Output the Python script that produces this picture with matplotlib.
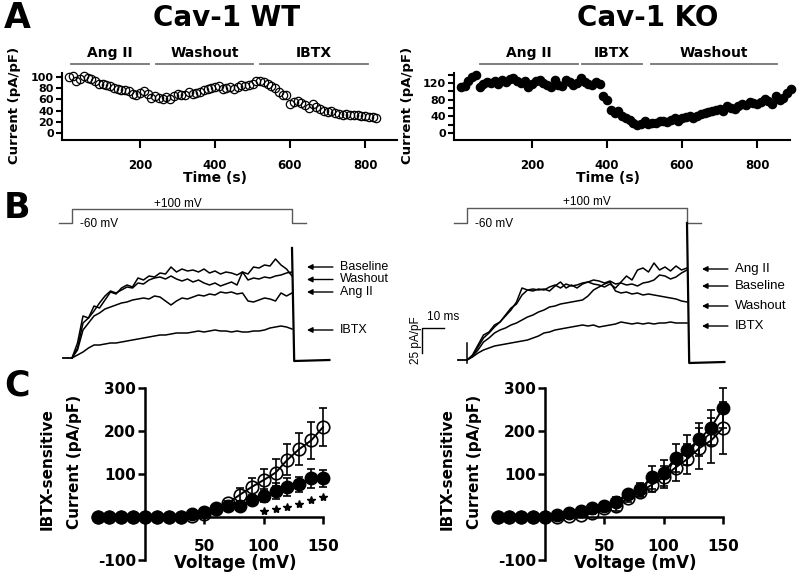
import numpy as np
import matplotlib
matplotlib.use("Agg")
import matplotlib.pyplot as plt

plt.rcParams['font.family'] = ['DejaVu Sans']
plt.rcParams['font.weight'] = 'bold'

W, H = 800, 580

# ---------------- panel A: time courses ----------------
wt_time = np.arange(10, 840, 10)
wt_current = [100, 102, 93, 97, 101, 98, 96, 92, 88, 87,
              85, 84, 81, 78, 76, 77, 75, 70, 68, 72,
              75, 70, 62, 66, 62, 60, 64, 61, 66, 70,
              67, 68, 73, 69, 72, 74, 76, 78, 80, 82,
              84, 78, 80, 82, 79, 83, 85, 84, 86, 88,
              92, 93, 91, 88, 84, 80, 74, 68, 67, 52,
              55, 58, 54, 50, 45, 52, 46, 42, 40, 38,
              40, 36, 34, 33, 34, 33, 32, 32, 31, 30,
              29, 28, 27]
ko_time = np.arange(10, 900, 10)
ko_current = [110, 112, 125, 135, 140, 110, 118, 122, 120, 125,
              118, 128, 122, 130, 132, 125, 120, 124, 110, 118,
              125, 128, 120, 115, 110, 128, 115, 112, 128, 122,
              115, 120, 132, 122, 118, 115, 122, 118, 90, 80,
              55, 48, 52, 40, 35, 32, 25, 20, 22, 28,
              22, 25, 24, 28, 30, 27, 32, 35, 30, 36,
              38, 40, 36, 42, 45, 48, 50, 52, 55, 58,
              54, 65, 60, 58, 65, 70, 68, 75, 72, 70,
              75, 82, 78, 70, 90, 80, 85, 95, 105]
wt_drugs = ["Ang II", "Washout", "IBTX"]
wt_drug_start = [16, 243, 520]
wt_drug_end = [224, 502, 808]
ko_drugs = ["Ang II", "IBTX", "Washout"]
ko_drug_start = [62, 332, 517]
ko_drug_end = [322, 493, 854]

# ---------------- panel B: current traces ----------------
b_time = np.arange(0, 100.1, 2.5)
wt_baseline = [0, 15, 42, 40, 52, 50, 58, 66, 64, 70,
               73, 71, 80, 78, 82, 81, 85, 84, 91, 86,
               89, 87, 88, 86, 89, 85, 87, 84, 86, 85,
               83, 86, 84, 91, 90, 93, 92, 99, 93, 89, 82]
wt_washout = [0, 10, 35, 40, 47, 55, 62, 67, 65, 68,
              71, 70, 75, 74, 78, 80, 81, 79, 82, 79,
              77, 79, 76, 78, 75, 73, 75, 72, 74, 76,
              73, 86, 78, 80, 79, 81, 80, 82, 83, 85, 86]
wt_angii = [0, 8, 28, 35, 42, 45, 49, 51, 53, 55,
            56, 58, 59, 60, 59, 62, 61, 57, 53, 57,
            60, 59, 61, 63, 62, 64, 63, 66, 65, 66,
            64, 65, 57, 56, 58, 60, 59, 57, 65, 62, 65]
wt_ibtx = [0, 3, 6, 10, 13, 13, 14, 15, 15, 16,
           17, 18, 19, 20, 21, 22, 23, 23, 24, 25,
           25, 25, 26, 27, 26, 27, 28, 27, 27, 26,
           27, 26, 26, 27, 27, 28, 30, 31, 32, 31, 29]
ko_angii = [0, 5, 15, 25, 28, 35, 38, 44, 50, 58,
            72, 70, 71, 70, 71, 69, 74, 78, 72, 75,
            72, 76, 78, 76, 75, 73, 76, 72, 78, 84,
            80, 90, 92, 88, 97, 90, 93, 89, 94, 90, 92]
ko_baseline = [0, 4, 13, 22, 27, 33, 38, 45, 52, 56,
               65, 70, 69, 71, 70, 73, 75, 72, 76, 74,
               75, 77, 78, 80, 79, 77, 79, 76, 77, 75,
               76, 74, 77, 78, 80, 85, 84, 81, 83, 87, 90]
ko_washout = [0, 4, 10, 18, 22, 27, 30, 32, 35, 37,
              40, 43, 45, 48, 50, 53, 54, 56, 57, 58,
              59, 60, 64, 70, 73, 76, 78, 69, 67, 68,
              66, 67, 65, 66, 65, 64, 63, 62, 61, 59, 58]
ko_ibtx = [0, 3, 7, 10, 12, 14, 15, 16, 17, 18,
           19, 20, 22, 24, 27, 28, 30, 31, 32, 33,
           34, 35, 34, 35, 33, 34, 35, 36, 38, 37,
           36, 37, 36, 37, 36, 37, 37, 38, 37, 37, 37]
pre_t = [-4, 0]
pre_i = [0, 0]
tail_t = [100, 101, 117]
wt_tail_i = [110, -3, -2]
ko_tail_i = [137, -3, -2]
ko_artifact_i = [-3, 17]
protocol_t = [-6, 0, 0, 100, 100, 106.5]
protocol_mv = [-60, -60, 100, 100, -60, -60]
wt_labels = ["Baseline", "Washout", "Ang II", "IBTX"]
wt_arrow_i = [91, 78.5, 66, 28]
ko_labels = ["Ang II", "Baseline", "Washout", "IBTX"]
ko_arrow_i = [91, 74, 54, 34]
scale_ms = 10
scale_pa = 25

# ---------------- panel C: I-V curves ----------------
volt = np.arange(-40, 151, 10)
wt_open = [0, 0, 0, 0, 0, 0, 0, 0, 3, 8, 18, 32, 52, 70, 86, 103, 133, 158, 178, 209]
wt_open_err = [0, 0, 0, 0, 0, 0, 0, 0, 3, 4, 5, 6, 15, 20, 25, 32, 36, 38, 43, 44]
wt_fill = [0, 0, 0, 0, 0, 0, 0, 0, 6, 12, 20, 25, 25, 40, 50, 60, 70, 76, 90, 90]
wt_fill_err = [0, 0, 0, 0, 0, 0, 0, 0, 2, 3, 5, 8, 10, 12, 15, 18, 20, 17, 22, 20]
star_v = [100, 110, 120, 130, 140, 150]
star_i = [13, 18, 24, 31, 39, 46]
ko_open = [0, 0, 0, 0, 0, 0, 2, 5, 10, 20, 25, 45, 58, 75, 93, 115, 135, 160, 178, 207]
ko_open_err = [0, 0, 0, 0, 0, 1, 2, 3, 4, 6, 10, 10, 12, 18, 26, 31, 35, 48, 52, 60]
ko_fill = [0, 0, 0, 0, 0, 5, 10, 14, 20, 26, 36, 53, 65, 92, 103, 137, 155, 181, 208, 253]
ko_fill_err = [0, 0, 0, 0, 0, 1, 2, 3, 4, 5, 10, 10, 15, 26, 30, 33, 35, 38, 40, 47]


fig = plt.figure(figsize=(W / 100, H / 100), dpi=100)


def box(x0, y0, x1, y1):
    return fig.add_axes([x0 / W, 1 - y1 / H, (x1 - x0) / W, (y1 - y0) / H])


def lims(a, b, p1, v1, p2, v2):
    k = (v2 - v1) / (p2 - p1)
    return v1 + (a - p1) * k, v1 + (b - p1) * k


def ftext(x, y, s, **kw):
    kw.setdefault('ha', 'center')
    kw.setdefault('va', 'center')
    fig.text(x / W, 1 - y / H, s, **kw)


def time_course(ax, t, cur, filled, drugs, starts, ends, bar_y, lab_y):
    ax.plot(t, cur, 'o', ms=6, mfc='black' if filled else 'none', mec='black',
            mew=0.9, clip_on=False)
    for name, a, b in zip(drugs, starts, ends):
        ax.plot([a, b], [bar_y, bar_y], color='0.45', lw=1.3, clip_on=False)
        ax.text((a + b) / 2, lab_y, name, ha='center', va='center', fontsize=10)
    for s in ['top', 'right']:
        ax.spines[s].set_visible(False)
    for s in ['left', 'bottom']:
        ax.spines[s].set_linewidth(1.5)
    ax.set_xticks([200, 400, 600, 800])
    ax.tick_params(axis='x', length=6, width=1.5, pad=8, labelsize=8.5)
    ax.tick_params(axis='y', which='both', length=4, width=1.5, pad=2, labelsize=8)


# A left
ax = box(62, 73, 397, 140)
ax.set_xlim(*lims(62, 397, 65, 0, 140, 200))
ax.set_ylim(*lims(140, 73, 133, 0, 77, 100))
time_course(ax, wt_time, wt_current, False, wt_drugs, wt_drug_start, wt_drug_end, 123, 143)
ax.set_yticks(range(0, 101, 20))

# A right
ax = box(454, 73, 790, 140)
ax.set_xlim(*lims(454, 790, 457, 0, 532, 200))
ax.set_ylim(*lims(140, 73, 133, 0, 83, 120))
time_course(ax, ko_time, ko_current, True, ko_drugs, ko_drug_start, ko_drug_end, 165.6, 192)
ax.set_yticks([0, 40, 80, 120])
ax.set_yticks([20, 60, 100, 140], minor=True)

ftext(4, 18, "A", fontsize=25, ha='left')
ftext(227, 18, "Cav-1 WT", fontsize=20)
ftext(648, 18, "Cav-1 KO", fontsize=20)
ftext(15, 105, "Current (pA/pF)", rotation=90, fontsize=9.5)
ftext(408, 105, "Current (pA/pF)", rotation=90, fontsize=9.5)
ftext(215, 178, "Time (s)", fontsize=10)
ftext(608, 178, "Time (s)", fontsize=10)


# ---------------- panel B ----------------
def traces(x0, x1, t0_px, base_px, proto_lo_px, proto_hi_px, curves, tail_i,
           labels, arrow_i, lab_size):
    axp = box(x0, 195, x1, 240)
    axp.set_xlim(*lims(x0, x1, t0_px, 0, t0_px + 22, 10))
    axp.set_ylim(*lims(240, 195, proto_lo_px, -60, proto_hi_px, 100))
    axp.axis('off')
    axp.plot(protocol_t, protocol_mv, color='0.35', lw=1.0)

    axb = box(x0, 195, x1, 372)
    axb.set_xlim(*lims(x0, x1, t0_px, 0, t0_px + 22, 10))
    axb.set_ylim(*lims(372, 195, base_px, 0, base_px - 100, 100))
    axb.axis('off')
    axb.plot(pre_t, pre_i, color='black', lw=1.3)
    for cur in curves:
        axb.plot(b_time, cur, color='black', lw=1.1)
    axb.plot(tail_t, tail_i, color='black', lw=1.6)
    for lab, yi in zip(labels, arrow_i):
        axb.annotate("", xy=(106.8, yi), xytext=(118.6, yi),
                     arrowprops=dict(arrowstyle='-|>', color='black', lw=1.0,
                                     mutation_scale=8, shrinkA=0, shrinkB=0))
        axb.text(121.8, yi, lab, ha='left', va='center', fontsize=lab_size,
                 fontweight='normal', family='Liberation Sans')
    return axp, axb


axp, axb = traces(55, 400, 72, 358, 223, 209,
                  [wt_baseline, wt_washout, wt_angii, wt_ibtx], wt_tail_i,
                  wt_labels, wt_arrow_i, 9)
axp.text(48, 157, "+100 mV", ha='center', va='center', fontsize=8.5,
         fontweight='normal', family='Liberation Sans')
axp.text(3.6, -71, "-60 mV", ha='left', va='center', fontsize=8.5,
         fontweight='normal', family='Liberation Sans')

axp, axb = traces(400, 800, 467, 360, 223, 208,
                  [ko_angii, ko_baseline, ko_washout, ko_ibtx], ko_tail_i,
                  ko_labels, ko_arrow_i, 9.5)
axb.plot([0, 0], ko_artifact_i, color='black', lw=1.1)
axp.text(54.5, 168, "+100 mV", ha='center', va='center', fontsize=8.5,
         fontweight='normal', family='Liberation Sans')
axp.text(3.6, -71, "-60 mV", ha='left', va='center', fontsize=8.5,
         fontweight='normal', family='Liberation Sans')
# scale bar
sx, sy = -20.5, 7
axb.plot([sx, sx, sx + scale_ms], [sy, sy + scale_pa, sy + scale_pa], color='black', lw=1.0)
axb.text(sx + 2.3, sy + scale_pa + 11, "10 ms", ha='left', va='center', fontsize=8.5,
         fontweight='normal', family='Liberation Sans')
axb.text(sx - 2.7, sy + 13, "25 pA/pF", ha='center', va='center', rotation=90,
         fontsize=8.5, fontweight='normal', family='Liberation Sans')

ftext(4, 208, "B", fontsize=25, ha='left')


# ---------------- panel C ----------------
def iv(x0, zero_px, o, oe, f, fe):
    ax = box(x0, 380, x0 + 245, 568)
    ax.set_xlim(*lims(x0, x0 + 245, zero_px, 0, zero_px + 178, 150))
    ax.set_ylim(*lims(568, 380, 517, 0, 388, 300))
    ax.errorbar(volt, o, yerr=oe, fmt='-o', color='black', ms=9, mfc='none',
                mew=1.2, lw=1.4, elinewidth=1.2, capsize=3, capthick=1.2,
                clip_on=False, zorder=3)
    ax.errorbar(volt, f, yerr=fe, fmt='-o', color='black', ms=9, mfc='black',
                lw=1.4, elinewidth=1.2, capsize=3, capthick=1.2,
                clip_on=False, zorder=4)
    for s in ['top', 'right']:
        ax.spines[s].set_visible(False)
    ax.spines['left'].set_position(('data', 0))
    ax.spines['bottom'].set_position(('data', 0))
    ax.spines['left'].set_bounds(-100, 300)
    ax.spines['bottom'].set_bounds(-40, 150)
    for s in ['left', 'bottom']:
        ax.spines[s].set_linewidth(1.8)
    ax.set_xticks([50, 100, 150])
    ax.set_yticks([-100, 0, 100, 200, 300])
    ax.set_yticklabels(['-100', '', '100', '200', '300'])
    ax.tick_params(axis='x', length=5, width=1.8, pad=11, labelsize=11)
    ax.tick_params(axis='y', length=5, width=1.8, pad=1.5, labelsize=11)
    return ax


ax = iv(90, 145, wt_open, wt_open_err, wt_fill, wt_fill_err)
ax.plot(star_v, star_i, '*', color='black', ms=6, ls='none')
iv(490, 545, ko_open, ko_open_err, ko_fill, ko_fill_err)

ftext(4, 385, "C", fontsize=25, ha='left')
for off in [0, 400]:
    ftext(47 + off, 469, "IBTX-sensitive", rotation=90, fontsize=11)
    ftext(74 + off, 462, "Current (pA/pF)", rotation=90, fontsize=11)
    ftext(235 + off, 563, "Voltage (mV)", fontsize=12)

fig.savefig("out.png", dpi=100)
